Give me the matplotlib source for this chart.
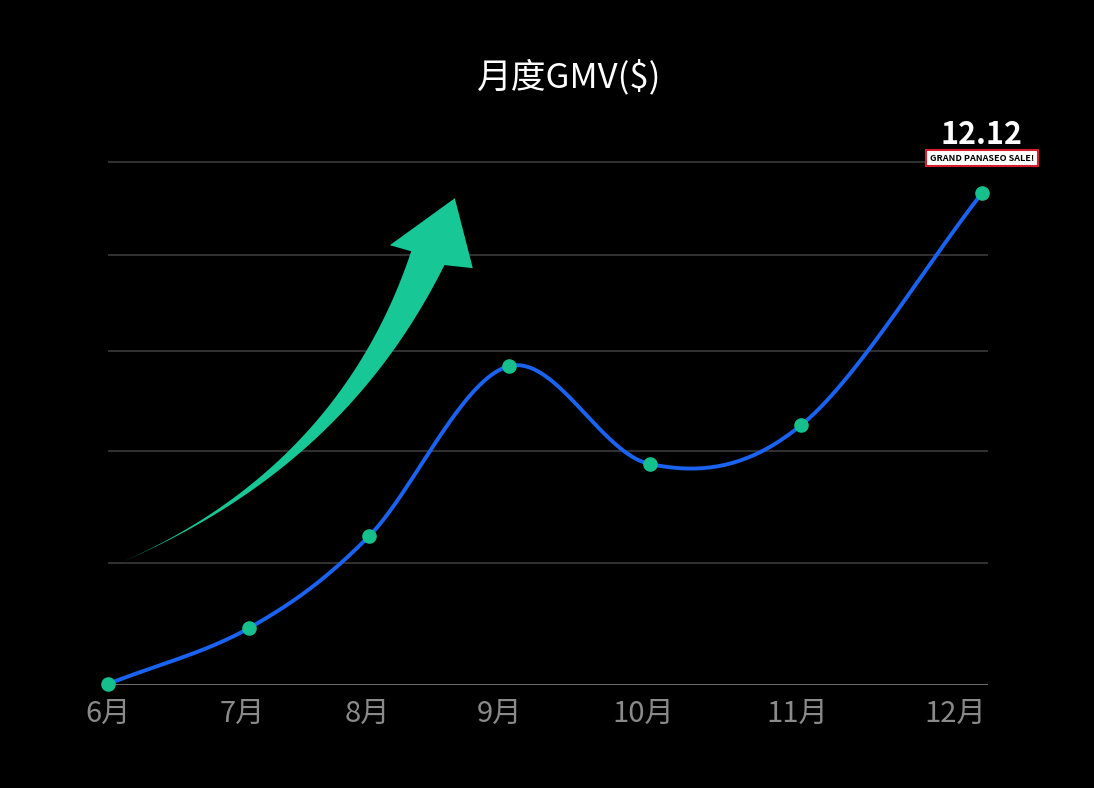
import numpy as np
import matplotlib.pyplot as plt
from matplotlib.patches import Polygon

plt.rcParams['font.family'] = ['Noto Sans CJK SC', 'DejaVu Sans']

months = ['6月', '7月', '8月', '9月', '10月', '11月', '12月']
month_pos = [0, 0.95, 1.84, 2.77, 3.79, 4.88, 6.0]
point_x = [0.0, 1.0, 1.85, 2.84, 3.84, 4.91, 6.19]
point_y = [1, 57, 149, 319, 221, 260, 492]
grid_y = [122, 234, 334, 430, 523]


def catmull(x, y, n=40):
    x = np.asarray(x, float); y = np.asarray(y, float)
    px = np.r_[2 * x[0] - x[1], x, 2 * x[-1] - x[-2]]
    py = np.r_[2 * y[0] - y[1], y, 2 * y[-1] - y[-2]]
    t = np.linspace(0, 1, n)[:, None]
    xs, ys = [], []
    for i in range(1, len(px) - 2):
        for p, out in ((px, xs), (py, ys)):
            p0, p1, p2, p3 = p[i - 1:i + 3]
            v = 0.5 * ((2 * p1) + (-p0 + p2) * t + (2 * p0 - 5 * p1 + 4 * p2 - p3) * t ** 2
                       + (-p0 + 3 * p1 - 3 * p2 + p3) * t ** 3)
            out.append(v.ravel())
    return np.concatenate(xs), np.concatenate(ys)


fig = plt.figure(figsize=(10.94, 7.88), dpi=100, facecolor='black')
ax = fig.add_axes([0.0987, 0.1307, 0.804, 0.685])
ax.set_facecolor('black')
ax.set_xlim(0, 6.23)
ax.set_ylim(0, 540)
for g in grid_y:
    ax.axhline(g, color='#3a3a3a', lw=1.2)
ax.axhline(0, color='#777777', lw=2)

cx, cy = catmull(point_x, point_y)
ax.plot(cx, cy, color='#1a63f0', lw=2.8, zorder=3)
ax.scatter(point_x, point_y, s=90, color='#15c08c', zorder=4, clip_on=False)

ax.set_xticks(month_pos, months)
ax.tick_params(axis='x', colors='#8a8a8a', labelsize=21, length=0, pad=10)
ax.set_yticks([])
for s in ax.spines.values():
    s.set_visible(False)


# decorative tapered green arrow, in axes fraction
def to_ax(px, py):
    return (np.asarray(px) - 108) / 880, (685 - np.asarray(py)) / 540


t = np.linspace(0, 1, 60)
p0, p1, p2 = np.array([115, 565]), np.array([340, 470]), np.array([428, 258])
c = ((1 - t) ** 2)[:, None] * p0 + (2 * (1 - t) * t)[:, None] * p1 + (t ** 2)[:, None] * p2
d = (2 * (1 - t))[:, None] * (p1 - p0) + (2 * t)[:, None] * (p2 - p1)
nrm = np.c_[-d[:, 1], d[:, 0]] / np.linalg.norm(d, axis=1)[:, None]
w = 18 * t ** 1.8
left = c + nrm * w[:, None]
right = c - nrm * w[:, None]
body = np.vstack([left, [[473, 268], [455, 198], [390, 245]], right[::-1]])
bx, by = to_ax(body[:, 0], body[:, 1])
ax.add_patch(Polygon(np.c_[bx, by], closed=True, transform=ax.transAxes,
                     color='#17c795', zorder=2, lw=0))

fig.text(0.52, 0.902, '月度GMV($)', color='white', fontsize=25, ha='center', va='center')

# 12.12 badge
ax.text(6.19, 550, '12.12', color='white', fontsize=22, fontweight='bold', ha='center', va='center',
        zorder=6)
ax.text(6.19, 527, 'GRAND PANASEO SALE!', color='black', fontsize=6.5, fontweight='bold',
        ha='center', va='center', zorder=6,
        bbox=dict(boxstyle='square,pad=0.4', fc='white', ec='#d62030', lw=1.5))
fig.savefig('out.png', dpi=100, facecolor='black')
